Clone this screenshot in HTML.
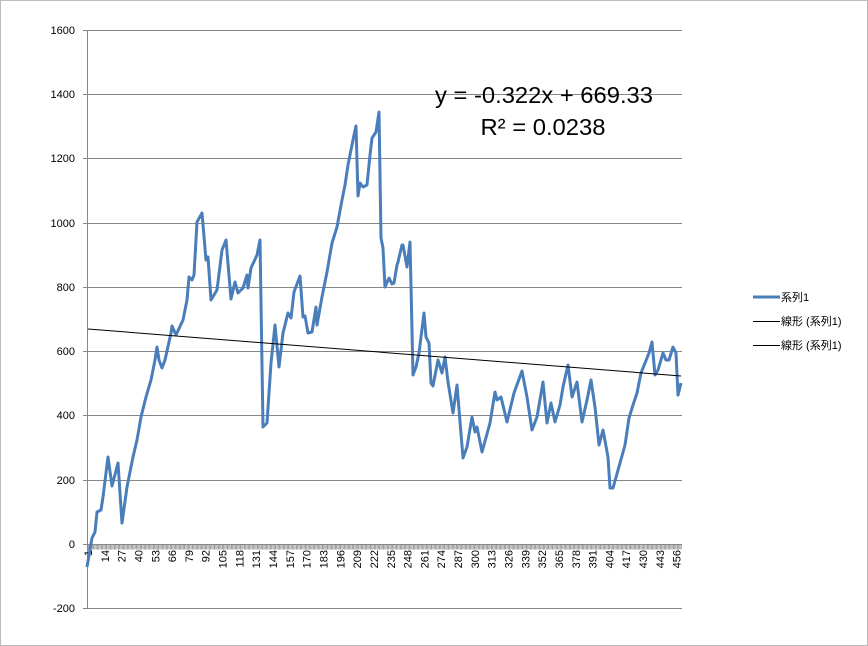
<!DOCTYPE html>
<html><head><meta charset="utf-8"><style>
html,body{margin:0;padding:0;background:#fff}
svg{display:block;font-family:"Liberation Sans","Noto Sans CJK JP",sans-serif}
</style></head><body>
<svg width="868" height="646" viewBox="0 0 868 646" xmlns="http://www.w3.org/2000/svg">
<rect x="0.5" y="0.5" width="867" height="645" fill="#fff" stroke="#bcbcbc"/>
<g stroke="#868686" stroke-width="1">
<line x1="83" y1="30.5" x2="682" y2="30.5"/>
<line x1="83" y1="94.5" x2="682" y2="94.5"/>
<line x1="83" y1="158.5" x2="682" y2="158.5"/>
<line x1="83" y1="223.5" x2="682" y2="223.5"/>
<line x1="83" y1="287.5" x2="682" y2="287.5"/>
<line x1="83" y1="351.5" x2="682" y2="351.5"/>
<line x1="83" y1="415.5" x2="682" y2="415.5"/>
<line x1="83" y1="480.5" x2="682" y2="480.5"/>
<line x1="83" y1="544.5" x2="682" y2="544.5"/>
<line x1="83" y1="608.5" x2="682" y2="608.5"/>
<line x1="87.5" y1="30" x2="87.5" y2="609"/>
</g>
<line x1="88" y1="547" x2="682" y2="547" stroke="#8a8a8a" stroke-width="5" stroke-dasharray="0.8 0.5"/>
<g font-size="11" fill="#000" text-anchor="end">
<text x="75" y="34">1600</text><text x="75" y="98">1400</text><text x="75" y="162">1200</text>
<text x="75" y="227">1000</text><text x="75" y="291">800</text><text x="75" y="355">600</text>
<text x="75" y="419">400</text><text x="75" y="484">200</text><text x="75" y="548">0</text>
<text x="75" y="612">-200</text>
</g>
<g font-size="11" fill="#000" text-anchor="end">
<text transform="translate(92,550) rotate(-90)">1</text>
<text transform="translate(108.8,550) rotate(-90)">14</text>
<text transform="translate(125.6,550) rotate(-90)">27</text>
<text transform="translate(142.5,550) rotate(-90)">40</text>
<text transform="translate(159.3,550) rotate(-90)">53</text>
<text transform="translate(176.1,550) rotate(-90)">66</text>
<text transform="translate(192.9,550) rotate(-90)">79</text>
<text transform="translate(209.7,550) rotate(-90)">92</text>
<text transform="translate(226.6,550) rotate(-90)">105</text>
<text transform="translate(243.4,550) rotate(-90)">118</text>
<text transform="translate(260.2,550) rotate(-90)">131</text>
<text transform="translate(277,550) rotate(-90)">144</text>
<text transform="translate(293.8,550) rotate(-90)">157</text>
<text transform="translate(310.7,550) rotate(-90)">170</text>
<text transform="translate(327.5,550) rotate(-90)">183</text>
<text transform="translate(344.3,550) rotate(-90)">196</text>
<text transform="translate(361.1,550) rotate(-90)">209</text>
<text transform="translate(377.9,550) rotate(-90)">222</text>
<text transform="translate(394.8,550) rotate(-90)">235</text>
<text transform="translate(411.6,550) rotate(-90)">248</text>
<text transform="translate(428.4,550) rotate(-90)">261</text>
<text transform="translate(445.2,550) rotate(-90)">274</text>
<text transform="translate(462,550) rotate(-90)">287</text>
<text transform="translate(478.9,550) rotate(-90)">300</text>
<text transform="translate(495.7,550) rotate(-90)">313</text>
<text transform="translate(512.5,550) rotate(-90)">326</text>
<text transform="translate(529.3,550) rotate(-90)">339</text>
<text transform="translate(546.1,550) rotate(-90)">352</text>
<text transform="translate(563,550) rotate(-90)">365</text>
<text transform="translate(579.8,550) rotate(-90)">378</text>
<text transform="translate(596.6,550) rotate(-90)">391</text>
<text transform="translate(613.4,550) rotate(-90)">404</text>
<text transform="translate(630.2,550) rotate(-90)">417</text>
<text transform="translate(647.1,550) rotate(-90)">430</text>
<text transform="translate(663.9,550) rotate(-90)">443</text>
<text transform="translate(680.7,550) rotate(-90)">456</text>
</g>
<polyline fill="none" stroke="#4a7ebb" stroke-width="3" stroke-linejoin="round" points="
87,567 92,538 95,532 97,512 101,510 103,497 108,457 112,486 118,463 122,523 127,487 133,457 137,440 141,417 146,397 151,380 155,360 157,347 159,360 162,368 165,360 171,333 172,326 176,335 183,320 187,300 189,277 192,280 194,275 197,222 202,213 206,260 208,257 211,300 217,290 222,250 226,240 231,299 235,282 238,293 243,288 247,275 248,288 251,268 257,255 260,240 263,427 267,423 271,363 275,325 279,367 283,333 288,313 291,318 294,292 300,276 303,317 305,316 308,333 312,332 316,307 317,325 322,297 327,272 332,243 337,227 342,200 345,185 348,165 351,150 354,135 356,126 358,196 360,183 363,187 367,185 370,155 372,138 376,132 379,112 381,238 383,248 385,287 389,278 392,284 394,283 397,265 398,262 402,245 403,245 407,267 410,242 413,375 416,367 419,353 424,313 426,337 429,343 431,383 433,386 438,360 442,373 445,357 448,382 453,413 457,385 463,458 467,447 472,417 475,432 477,427 482,452 490,423 495,392 497,400 501,397 507,422 514,393 522,371 527,397 532,430 537,417 543,382 547,423 551,403 555,422 560,405 563,387 568,365 572,397 577,382 582,422 587,400 591,380 595,407 599,445 603,430 608,457 610,488 613,488 620,463 625,445 629,418 633,405 637,393 641,373 645,363 649,353 652,342 655,375 658,370 663,353 666,360 669,360 673,347 676,353 678,395 681,383"/>
<line x1="88" y1="329" x2="681" y2="376" stroke="#000" stroke-width="1"/>
<g font-size="23" fill="#000" text-anchor="middle">
<text x="544" y="103" textLength="218" lengthAdjust="spacingAndGlyphs">y = -0.322x + 669.33</text>
<text x="543" y="135" textLength="125" lengthAdjust="spacingAndGlyphs">R² = 0.0238</text>
</g>
<g font-size="11" fill="#000">
<line x1="753" y1="297" x2="780" y2="297" stroke="#4a7ebb" stroke-width="3"/>
<text x="781" y="301">系列1</text>
<line x1="753" y1="321.5" x2="780" y2="321.5" stroke="#000" stroke-width="1"/>
<text x="781" y="325">線形 (系列1)</text>
<line x1="753" y1="345.5" x2="780" y2="345.5" stroke="#000" stroke-width="1"/>
<text x="781" y="349">線形 (系列1)</text>
</g>
</svg>
</body></html>
